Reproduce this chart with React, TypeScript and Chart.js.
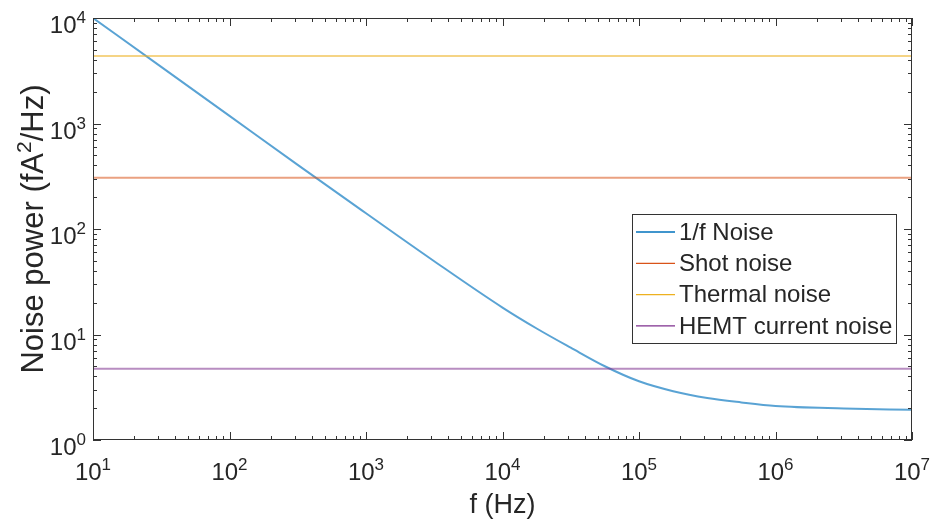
import React, { useEffect, useRef } from 'react';
import { Chart, registerables } from 'chart.js';

Chart.register(...registerables);

// Frequency grid (Hz) and the 1/f noise spectrum read along it (fA^2/Hz)
const freqHz = [10, 31.6, 100, 316, 1000, 3160, 10000, 17800, 31600, 56200, 100000, 178000, 316000, 562000, 1000000, 3160000, 10000000];
const flickerNoise = [10000, 3440, 1180, 405, 141, 49.5, 18, 11.4, 7.5, 5.0, 3.6, 2.9, 2.5, 2.27, 2.1, 1.99, 1.93];

// Flat noise floors (fA^2/Hz)
const shotNoise = 306;
const thermalNoise = 4365;
const hemtNoise = 4.74;

const seriesLabels = ['1/f Noise', 'Shot noise', 'Thermal noise', 'HEMT current noise'];
const seriesColors = ['#0072BD', '#D95319', '#EDB120', '#7E2F8E'];
const traceColors = ['rgba(0,114,189,0.65)', 'rgba(217,83,25,0.55)', 'rgba(237,177,32,0.55)', 'rgba(126,47,142,0.55)'];

const xExponents = [1, 2, 3, 4, 5, 6, 7];
const yExponents = [0, 1, 2, 3, 4];
const xTitle = 'f (Hz)';
const yTitleParts = ['Noise power (fA', '2', '/Hz)'];

const FONT = '"Liberation Sans", Arial, Helvetica, sans-serif';
const AXIS_COLOR = '#333333';
const TEXT_COLOR = '#262626';
const TICK_PX = 24;
const EXP_PX = 17;
const TITLE_PX = 27;
const YTITLE_PX = 31;
const YTITLE_SUP_PX = 21;

const flat = (v: number) => [
  { x: freqHz[0], y: v },
  { x: freqHz[freqHz.length - 1], y: v },
];

// Draws "10" with a raised exponent; anchor is center or right edge
function drawPower(ctx: CanvasRenderingContext2D, exp: string, x: number, baseY: number, align: 'center' | 'right') {
  ctx.font = `${TICK_PX}px ${FONT}`;
  const wBase = ctx.measureText('10').width;
  ctx.font = `${EXP_PX}px ${FONT}`;
  const wExp = ctx.measureText(exp).width;
  const total = wBase + wExp;
  const start = align === 'center' ? x - total / 2 : x - total;
  ctx.textAlign = 'left';
  ctx.textBaseline = 'alphabetic';
  ctx.font = `${TICK_PX}px ${FONT}`;
  ctx.fillText('10', start, baseY);
  ctx.font = `${EXP_PX}px ${FONT}`;
  ctx.fillText(exp, start + wBase, baseY - 10);
}

const axesPlugin = {
  id: 'boxedLogAxes',
  afterDraw(chart: any) {
    const { ctx, chartArea, scales } = chart;
    const { left, right, top, bottom } = chartArea;
    const xs = scales.x;
    const ys = scales.y;
    ctx.save();

    // axes box
    ctx.strokeStyle = AXIS_COLOR;
    ctx.lineWidth = 1;
    ctx.strokeRect(left + 0.5, top + 0.5, right - left - 1, bottom - top - 1);

    // ticks on all four sides, pointing inward
    ctx.beginPath();
    const majorLen = 8;
    const minorLen = 4;
    for (let i = 0; i < xExponents.length; i++) {
      const k = xExponents[i];
      const mults = i === xExponents.length - 1 ? [1] : [1, 2, 3, 4, 5, 6, 7, 8, 9];
      for (const m of mults) {
        const px = Math.round(xs.getPixelForValue(m * Math.pow(10, k))) + 0.5;
        const len = m === 1 ? majorLen : minorLen;
        ctx.moveTo(px, bottom);
        ctx.lineTo(px, bottom - len);
        ctx.moveTo(px, top);
        ctx.lineTo(px, top + len);
      }
    }
    for (let i = 0; i < yExponents.length; i++) {
      const k = yExponents[i];
      const mults = i === yExponents.length - 1 ? [1] : [1, 2, 3, 4, 5, 6, 7, 8, 9];
      for (const m of mults) {
        const py = Math.round(ys.getPixelForValue(m * Math.pow(10, k))) + 0.5;
        const len = m === 1 ? majorLen : minorLen;
        ctx.moveTo(left, py);
        ctx.lineTo(left + len, py);
        ctx.moveTo(right, py);
        ctx.lineTo(right - len, py);
      }
    }
    ctx.stroke();

    // tick labels
    ctx.fillStyle = TEXT_COLOR;
    for (const k of xExponents) {
      const px = xs.getPixelForValue(Math.pow(10, k));
      drawPower(ctx, String(k), px, bottom + 40, 'center');
    }
    for (const k of yExponents) {
      const py = ys.getPixelForValue(Math.pow(10, k));
      drawPower(ctx, String(k), left - 7, py + 15, 'right');
    }

    // axis titles
    ctx.font = `${TITLE_PX}px ${FONT}`;
    ctx.textAlign = 'center';
    ctx.textBaseline = 'alphabetic';
    ctx.fillText(xTitle, (left + right) / 2, bottom + 73);

    ctx.save();
    ctx.translate(43, (top + bottom) / 2);
    ctx.rotate(-Math.PI / 2);
    ctx.font = `${YTITLE_PX}px ${FONT}`;
    const w0 = ctx.measureText(yTitleParts[0]).width;
    const w2 = ctx.measureText(yTitleParts[2]).width;
    ctx.font = `${YTITLE_SUP_PX}px ${FONT}`;
    const w1 = ctx.measureText(yTitleParts[1]).width;
    let sx = -(w0 + w1 + w2) / 2;
    ctx.textAlign = 'left';
    ctx.font = `${YTITLE_PX}px ${FONT}`;
    ctx.fillText(yTitleParts[0], sx, 0);
    sx += w0;
    ctx.font = `${YTITLE_SUP_PX}px ${FONT}`;
    ctx.fillText(yTitleParts[1], sx, -12);
    sx += w1;
    ctx.font = `${YTITLE_PX}px ${FONT}`;
    ctx.fillText(yTitleParts[2], sx, 0);
    ctx.restore();

    // legend box inside the axes
    const lx = 632;
    const ly = 214;
    const lw = 264;
    const lh = 129;
    ctx.fillStyle = '#ffffff';
    ctx.fillRect(lx, ly, lw, lh);
    ctx.strokeStyle = AXIS_COLOR;
    ctx.lineWidth = 1;
    ctx.strokeRect(lx + 0.5, ly + 0.5, lw, lh);
    ctx.font = `24px ${FONT}`;
    ctx.textAlign = 'left';
    ctx.textBaseline = 'middle';
    seriesLabels.forEach((label, i) => {
      const cy = ly + 18 + i * 31.3;
      ctx.strokeStyle = seriesColors[i];
      ctx.lineWidth = 1.3;
      ctx.beginPath();
      ctx.moveTo(lx + 4, cy);
      ctx.lineTo(lx + 43, cy);
      ctx.stroke();
      ctx.fillStyle = TEXT_COLOR;
      ctx.fillText(label, lx + 47, cy + 1);
    });

    ctx.restore();
  },
};

export default function App() {
  const canvasRef = useRef<HTMLCanvasElement | null>(null);

  useEffect(() => {
    if (!canvasRef.current) return;
    const chart = new Chart(canvasRef.current, {
      type: 'line',
      data: {
        datasets: [
          {
            label: seriesLabels[0],
            data: freqHz.map((f, i) => ({ x: f, y: flickerNoise[i] })),
            borderColor: traceColors[0],
            borderWidth: 2,
            pointRadius: 0,
            cubicInterpolationMode: 'monotone',
            order: 4,
          },
          { label: seriesLabels[1], data: flat(shotNoise), borderColor: traceColors[1], borderWidth: 2, pointRadius: 0, order: 3 },
          { label: seriesLabels[2], data: flat(thermalNoise), borderColor: traceColors[2], borderWidth: 2, pointRadius: 0, order: 2 },
          { label: seriesLabels[3], data: flat(hemtNoise), borderColor: traceColors[3], borderWidth: 2, pointRadius: 0, order: 1 },
        ],
      },
      options: {
        responsive: false,
        animation: false,
        events: [],
        layout: { padding: { left: 93, top: 18, right: 21, bottom: 79 } },
        plugins: { legend: { display: false }, tooltip: { enabled: false } },
        scales: {
          x: {
            type: 'logarithmic',
            min: 10,
            max: 1e7,
            grid: { display: false },
            ticks: { display: false },
            border: { display: false },
            afterFit: (s: any) => { s.height = 0; },
          },
          y: {
            type: 'logarithmic',
            min: 1,
            max: 1e4,
            grid: { display: false },
            ticks: { display: false },
            border: { display: false },
            afterFit: (s: any) => { s.width = 0; },
          },
        },
      },
      plugins: [axesPlugin],
    });
    return () => chart.destroy();
  }, []);

  return (
    <div style={{ position: 'fixed', left: 0, top: 0, width: 933, height: 519, background: '#fff' }}>
      <canvas ref={canvasRef} width={933} height={519} style={{ width: 933, height: 519 }} />
    </div>
  );
}
